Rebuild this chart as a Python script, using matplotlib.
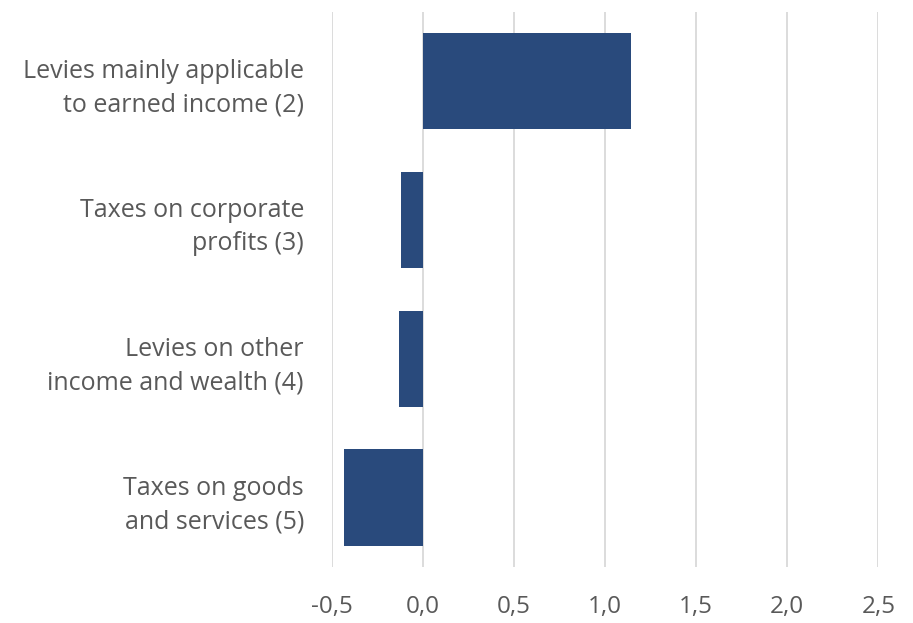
import matplotlib
matplotlib.use("Agg")
import matplotlib.pyplot as plt

# contributions by type of levy
categories = [
    "Levies mainly applicable\nto earned income (2)",
    "Taxes on corporate\nprofits (3)",
    "Levies on other\nincome and wealth (4)",
    "Taxes on goods\nand services (5)",
]
values = [1.14, -0.12, -0.13, -0.43]
xticks = [-0.5, 0.0, 0.5, 1.0, 1.5, 2.0, 2.5]
xtick_labels = ["-0,5", "0,0", "0,5", "1,0", "1,5", "2,0", "2,5"]

plt.rcParams['font.family'] = ['Open Sans', 'DejaVu Sans']

fig = plt.figure(figsize=(9.13, 6.23), dpi=100)
ax = fig.add_axes([0.3633, 0.0899, 0.5987, 0.8913])

pos = list(range(len(categories)))
ax.barh(pos, values, height=0.695, color='#294A7C', zorder=3)

ax.set_ylim(len(categories) - 0.5, -0.5)
ax.set_xlim(-0.5, 2.5)
ax.set_xticks(xticks)
ax.set_xticklabels(xtick_labels)
ax.set_yticks(pos)
ax.set_yticklabels(categories, linespacing=1.45, fontsize=18)

ax.grid(axis='x', color='#D9D9D9', linewidth=1.3, zorder=0)
for s in ax.spines.values():
    s.set_visible(False)
ax.tick_params(axis='both', length=0, labelcolor='#595959')
ax.tick_params(axis='x', pad=20, labelsize=17.5)
ax.tick_params(axis='y', pad=20)

fig.savefig("out.png", dpi=100)
